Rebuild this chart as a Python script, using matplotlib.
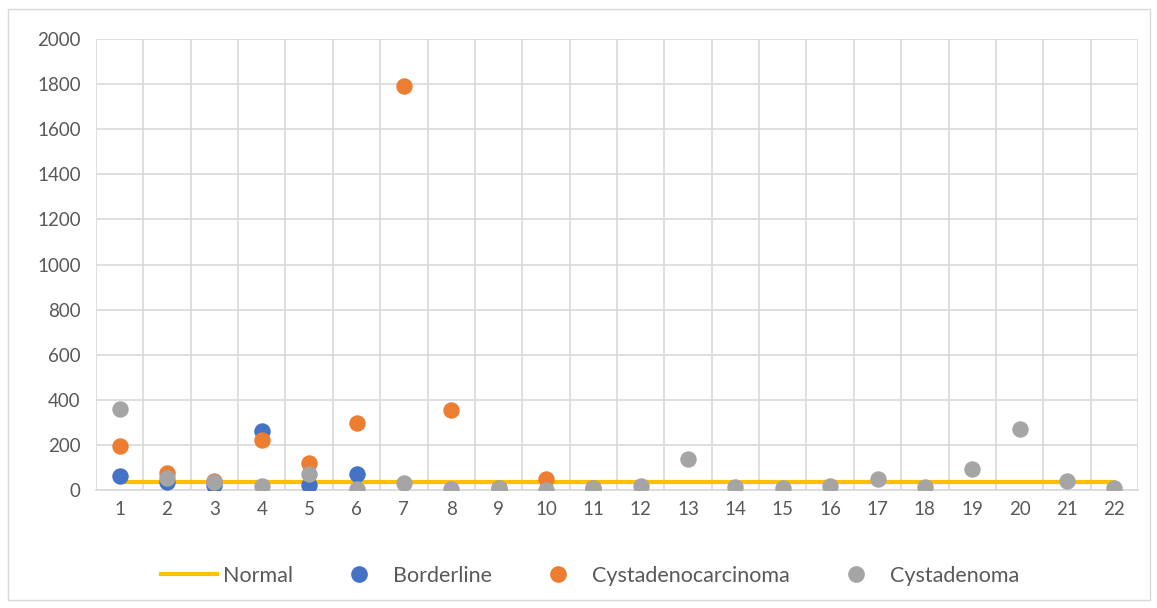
import numpy as np
import matplotlib.pyplot as plt
from matplotlib.patches import Rectangle
from matplotlib.lines import Line2D

nan = np.nan
categories = list(range(1, 23))
normal = [34] * 22
borderline = [60, 37, 20, 260, 23, 71] + [nan] * 16
cystadenocarcinoma = [195, 75, 38, 220, 120, 295, 1790, 355, 10, 49, 10] + [nan] * 11
cystadenoma = [360, 54, 35, 18, 70, 3, 33, 4, 8, 2, 8, 18, 139, 12, 8, 18, 48, 15, 94, 272, 38, 8]

c_normal = "#FFC000"
c_border = "#4472C4"
c_carc = "#ED7D31"
c_aden = "#A5A5A5"
grid_c = "#D9D9D9"
text_c = "#595959"

plt.rcParams["font.family"] = ["Lato", "DejaVu Sans"]

fig = plt.figure(figsize=(11.57, 6.08), dpi=100)
fig.patches.append(Rectangle((8 / 1157, 8 / 608), 1142 / 1157, 591 / 608,
                             transform=fig.transFigure, fill=False,
                             edgecolor=grid_c, linewidth=1.0))

ax = fig.add_axes([96 / 1157, 118 / 608, 1042 / 1157, 451 / 608])
x = np.array(categories)

ax.plot(x, normal, color=c_normal, linewidth=3, zorder=3, label="Normal")
ms = 140
ax.scatter(x, borderline, s=ms, color=c_border, zorder=4, label="Borderline", linewidths=0)
ax.scatter(x, cystadenocarcinoma, s=ms, color=c_carc, zorder=5, label="Cystadenocarcinoma", linewidths=0)
ax.scatter(x, cystadenoma, s=ms, color=c_aden, zorder=6, label="Cystadenoma", linewidths=0)

ax.set_xlim(0.5, 22.5)
ax.set_ylim(0, 2000)
ax.set_yticks(np.arange(0, 2001, 200))
ax.set_xticks(x)
ax.set_xticklabels([str(c) for c in categories])
ax.set_xticks(np.arange(0.5, 23, 1), minor=True)
ax.grid(False)
ax.yaxis.grid(True, color=grid_c, linewidth=1.2)
ax.xaxis.grid(True, which="minor", color=grid_c, linewidth=1.2)
ax.set_axisbelow(True)
for side in ["top", "right", "left"]:
    ax.spines[side].set_visible(False)
ax.spines["bottom"].set_color(grid_c)
ax.spines["bottom"].set_linewidth(1.2)
ax.tick_params(axis="both", which="both", length=0, labelsize=13.5, colors=text_c, pad=8)
ax.tick_params(axis="y", pad=11)

handles = [
    Line2D([], [], color=c_normal, linewidth=3),
    Line2D([], [], marker="o", linestyle="", color=c_border, markersize=11),
    Line2D([], [], marker="o", linestyle="", color=c_carc, markersize=11),
    Line2D([], [], marker="o", linestyle="", color=c_aden, markersize=11),
]
labels = ["Normal", "Borderline", "Cystadenocarcinoma", "Cystadenoma"]
leg = fig.legend(handles, labels, loc="center", bbox_to_anchor=(0.51, 32 / 608),
                 ncol=4, frameon=False, fontsize=15.5, columnspacing=1.8,
                 handlelength=2.6, handletextpad=0.25)
for t in leg.get_texts():
    t.set_color(text_c)

fig.savefig("out.png", dpi=100)
